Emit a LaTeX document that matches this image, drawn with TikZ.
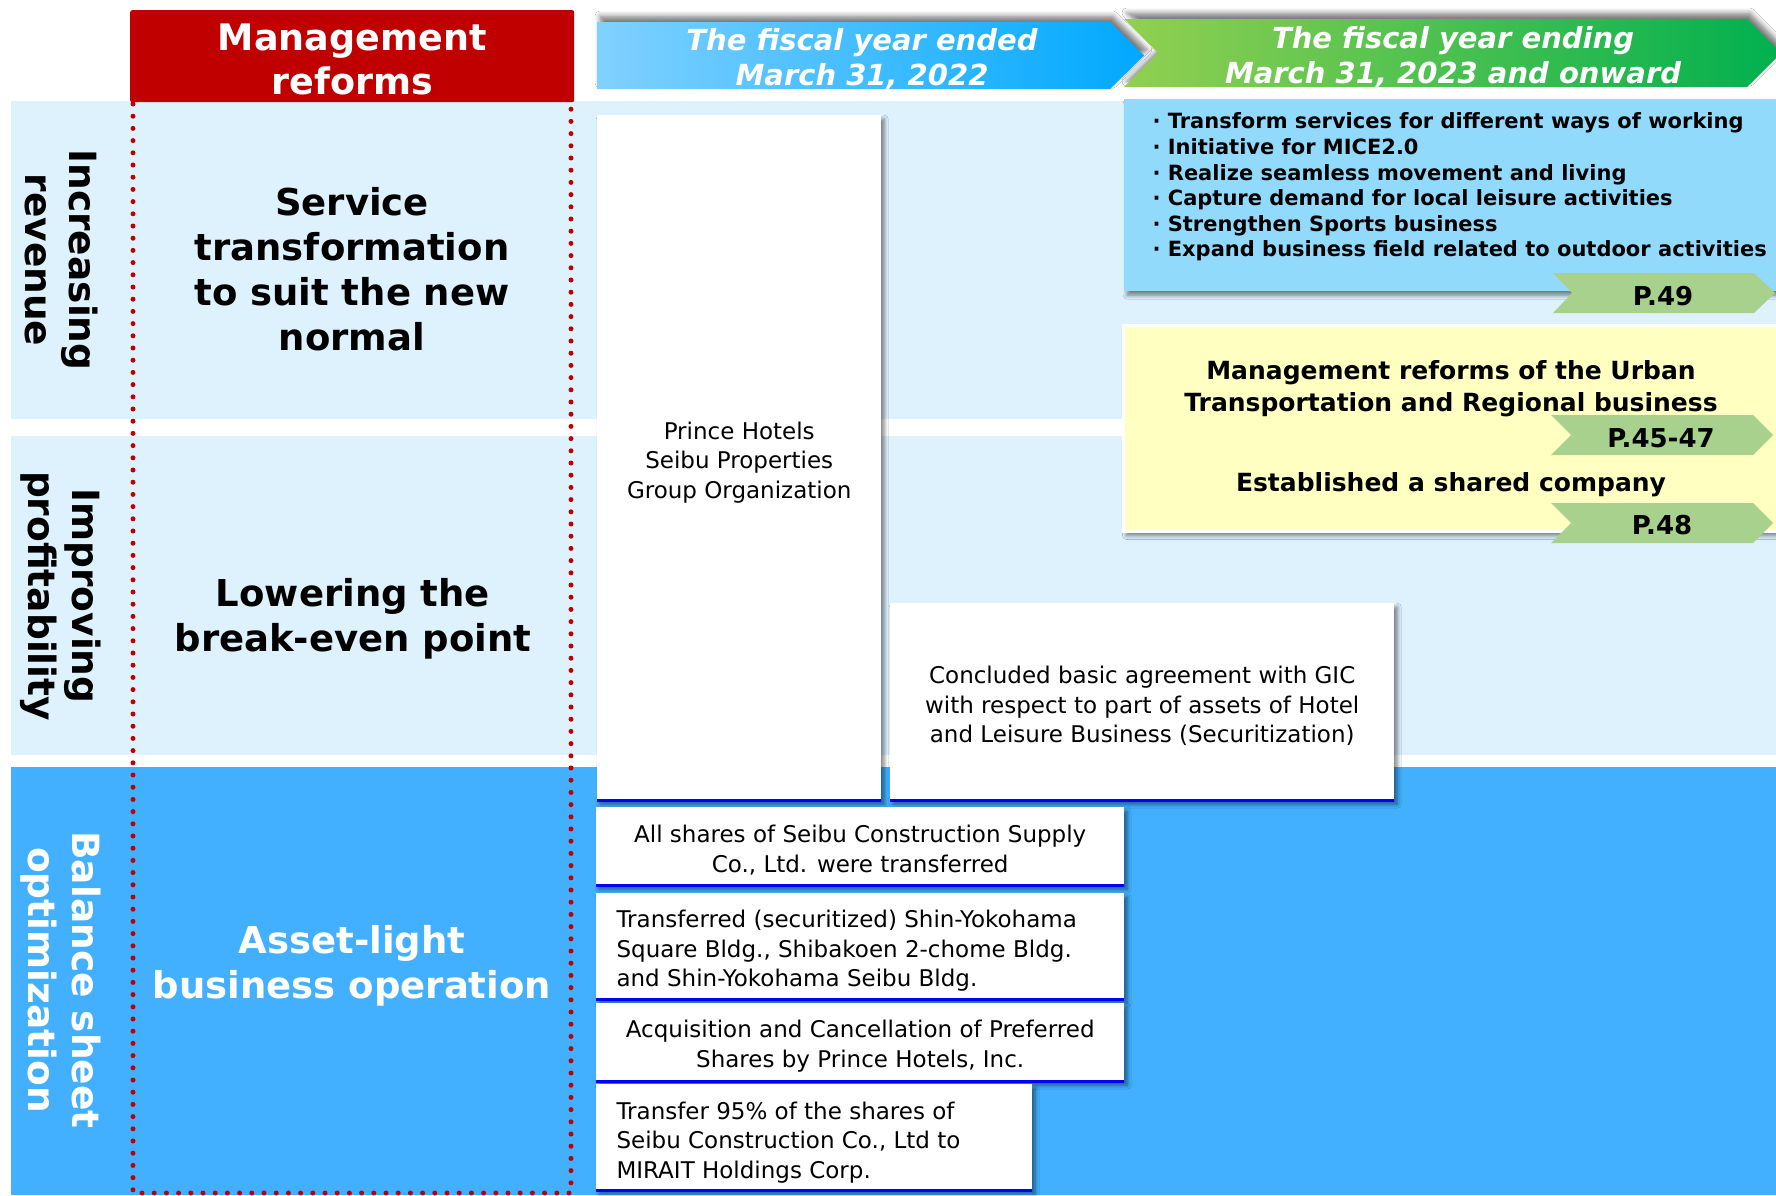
\documentclass[tikz,border=0pt]{standalone}
\usepackage{fontspec}
\setmainfont{DejaVu Sans}
\usetikzlibrary{shadows.blur}
\definecolor{bandlight}{HTML}{DDF2FD}
\definecolor{banddark}{HTML}{42B0FF}
\definecolor{mgmtred}{HTML}{C00000}
\definecolor{bulletblue}{HTML}{92DAFC}
\definecolor{yellowbox}{HTML}{FFFFC2}
\definecolor{taggreen}{HTML}{A9D18E}
\definecolor{blueL}{HTML}{80D1FF}
\definecolor{blueR}{HTML}{00A8FF}
\definecolor{greenL}{HTML}{92D050}
\definecolor{greenR}{HTML}{00B050}
\definecolor{boxline}{HTML}{0000FF}
\newcommand{\fsz}[2]{\fontsize{#1}{#2}\selectfont}
\begin{document}
\begin{tikzpicture}[x=1pt,y=-1pt,
  softshadow/.style={blur shadow={shadow xshift=3pt,shadow yshift=-4pt,shadow blur radius=4pt,shadow blur steps=6,shadow opacity=50}},
  upshadow/.style={blur shadow={shadow xshift=3pt,shadow yshift=6pt,shadow blur radius=5pt,shadow blur steps=6,shadow opacity=50}},
  whitebox/.style={fill=white,softshadow,inner sep=0pt,anchor=north west},
  boxtext/.style={font=\fsz{23}{29.5},align=center},
  bigtxt/.style={font=\bfseries\fsz{37}{45},align=center},
  sidetxt/.style={font=\bfseries\fsz{37.5}{44},align=center,rotate=-90},
  bannertxt/.style={font=\bfseries\itshape\fsz{29}{35},text=white,align=center},
  tagtxt/.style={font=\bfseries\fsz{26}{30}},
  bottomline/.style={draw=boxline,line width=2.5pt},
  reddots/.style={draw=mgmtred,line width=5pt,dash pattern=on 0pt off 12.2pt,line cap=round}
]
\useasboundingbox (0,0) rectangle (1776,1195);
\fill[white] (0,0) rectangle (1776,1195);

% bands
\fill[bandlight] (11,101) rectangle (1776,419);
\fill[bandlight] (11,436) rectangle (1776,755);
\fill[banddark] (11,767) rectangle (1776,1195);

% dotted frame
\draw[reddots] (133,104) -- (133,1193) -- (571,1193) -- (571,104);

% header
\node[fill=mgmtred,rounded corners=2pt,minimum width=444pt,minimum height=92pt,anchor=north west,inner sep=0pt] (mgmt) at (130,10) {};
\node[text=white,font=\bfseries\fsz{36.5}{44},align=center] (mgmtT) at ([yshift=-3pt]mgmt.center) {Management\\reforms};

% side labels
\node[sidetxt] (inc) at (61,260) {Increasing\\revenue};
\node[sidetxt] (imp) at (61,596) {Improving\\profitability};
\node[sidetxt,text=white] (bal) at (61,980) {Balance sheet\\optimization};

% reform texts
\node[bigtxt] (svc) at (352,269) {Service\\transformation\\to suit the new\\normal};
\node[bigtxt] (lower) at (353,619) {Lowering the\\break-even point};
\node[bigtxt,text=white] (asset) at (352,966) {Asset-light\\business operation};

% banners
\path[upshadow,left color=blueL,right color=blueR] (597,22) -- (1110,22) -- (1144,55.5) -- (1110,89) -- (597,89) -- cycle;
\node[bannertxt] (fy1) at (862,59) {The fiscal year ended\\March 31, 2022};
\path[upshadow,left color=greenL,right color=greenR] (1124,19) -- (1747,19) -- (1781,53) -- (1747,87) -- (1124,87) -- (1158,53) -- cycle;
\node[bannertxt] (fy2) at (1453,57) {The fiscal year ending\\March 31, 2023 and onward};

% bullet box
\node[fill=bulletblue,softshadow,anchor=north west,inner sep=0pt,minimum width=660pt,minimum height=192pt] (bullets) at (1124,99) {};
\node[anchor=west,align=left,font=\bfseries\fsz{21}{25.6}] (blist) at (1149,187) {· Transform services for different ways of working\\· Initiative for MICE2.0\\· Realize seamless movement and living\\· Capture demand for local leisure activities\\· Strengthen Sports business\\· Expand business field related to outdoor activities};
\fill[taggreen] (1553,273) -- (1754,273) -- (1775,293) -- (1754,313) -- (1553,313) -- (1572,293) -- cycle;
\node[tagtxt] (p49) at (1663,296) {P.49};

% yellow box
\node[fill=yellowbox,draw=white,line width=3pt,softshadow,anchor=north west,inner sep=0pt,minimum width=660pt,minimum height=206pt] (ybox) at (1122,324) {};
\node[font=\bfseries\fsz{25}{32},align=center] (urban) at (1451,389) {Management reforms of the Urban\\Transportation and Regional business};
\fill[taggreen] (1551,415) -- (1753,415) -- (1773,435) -- (1753,455) -- (1551,455) -- (1571,435) -- cycle;
\node[tagtxt] (p45) at (1661,438) {P.45-47};
\node[font=\bfseries\fsz{25}{32}] (shared) at (1451,485) {Established a shared company};
\fill[taggreen] (1551,503) -- (1753,503) -- (1773,523) -- (1753,543) -- (1551,543) -- (1571,523) -- cycle;
\node[tagtxt] (p48) at (1662,525) {P.48};

% white boxes
\node[whitebox,minimum width=284pt,minimum height=685pt] (prince) at (597,115) {};
\node[boxtext] (princeT) at ([yshift=-4.5pt]prince.center) {Prince Hotels\\Seibu Properties\\Group Organization};
\draw[bottomline] (prince.south west) -- (prince.south east);
\node[whitebox,minimum width=504pt,minimum height=197pt] (gic) at (890,603) {};
\node[boxtext] (gicT) at ([yshift=-4.5pt]gic.center) {Concluded basic agreement with GIC\\with respect to part of assets of Hotel\\and Leisure Business (Securitization)};
\draw[bottomline] (gic.south west) -- (gic.south east);

\node[whitebox,minimum width=528pt,minimum height=78pt] (boxa) at (596,807) {};
\node[boxtext] (boxaT) at ([yshift=-4pt]boxa.center) {All shares of Seibu Construction Supply\\Co., Ltd. were transferred};
\draw[bottomline] (boxa.south west) -- (boxa.south east);
\node[whitebox,minimum width=528pt,minimum height=106pt] (boxb) at (596,893) {};
\node[boxtext,align=left,anchor=west] (boxbT) at ([xshift=17pt,yshift=-4.5pt]boxb.west) {Transferred (securitized) Shin-Yokohama\\Square Bldg., Shibakoen 2-chome Bldg.\\and Shin-Yokohama Seibu Bldg.};
\draw[bottomline] (boxb.south west) -- (boxb.south east);
\node[whitebox,minimum width=528pt,minimum height=78pt] (boxc) at (596,1003) {};
\node[boxtext] (boxcT) at ([yshift=-4pt]boxc.center) {Acquisition and Cancellation of Preferred\\Shares by Prince Hotels, Inc.};
\draw[bottomline] (boxc.south west) -- (boxc.south east);
\node[whitebox,minimum width=436pt,minimum height=106pt] (boxd) at (596,1084) {};
\node[boxtext,align=left,anchor=west] (boxdT) at ([xshift=17pt,yshift=-5pt]boxd.west) {Transfer 95\% of the shares of\\Seibu Construction Co., Ltd to\\MIRAIT Holdings Corp.};
\draw[bottomline] (boxd.south west) -- (boxd.south east);
\end{tikzpicture}
\end{document}
